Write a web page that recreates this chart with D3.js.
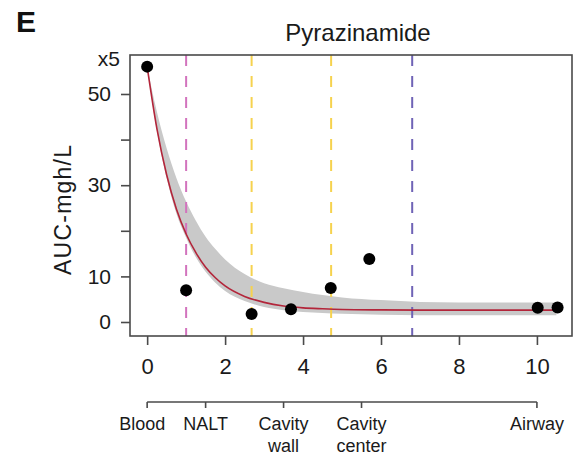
<!DOCTYPE html>
<html>
<head>
<meta charset="utf-8">
<script src="https://cdn.jsdelivr.net/npm/d3@7"></script>
<style>
  html, body { margin: 0; padding: 0; background: #fff; }
  svg { display: block; font-family: "Liberation Sans", Arial, Helvetica, sans-serif; }
</style>
</head>
<body>
<svg id="chart" width="573" height="459"></svg>
<script>
// Pyrazinamide exposure (AUC) by lesion compartment
const panelLabel = "E";
const chartTitle = "Pyrazinamide";
const yAxisTitle = "AUC-mgh/L";
const yScaleNote = "x5";

// Observed AUC per compartment position
const obsX = [0, 1.0, 2.68, 3.69, 4.71, 5.7, 10.02, 10.53];
const obsY = [56.0, 6.95, 1.75, 2.8, 7.45, 13.8, 3.1, 3.2];

// Fitted decay curve with its confidence band
const fitX  = [0, 0.25, 0.5, 0.75, 1, 1.25, 1.5, 1.75, 2, 2.5, 3, 3.5, 4, 4.5, 5, 6, 7, 8, 9, 10, 10.5];
const fitY  = [56.0, 42.4, 32.3, 24.8, 19.3, 15.2, 12.0, 9.7, 7.9, 5.6, 4.3, 3.5, 3.1, 2.9, 2.75, 2.65, 2.6, 2.6, 2.6, 2.6, 2.6];
const fitHi = [56.0, 46.1, 38.1, 31.6, 26.4, 22.2, 18.7, 16.0, 13.7, 10.5, 8.5, 7.4, 6.6, 5.9, 5.4, 4.8, 4.4, 4.3, 4.3, 4.3, 4.3];
const fitLo = [56.0, 42.0, 31.6, 23.8, 18.5, 14.2, 11.0, 8.6, 6.8, 4.6, 3.3, 2.6, 2.2, 2.0, 1.8, 1.6, 1.5, 1.5, 1.5, 1.5, 1.5];

// Compartment boundaries
const boundaryX = [1.0, 2.68, 4.72, 6.8];
const boundaryColors = ["#d273bd", "#f6d24e", "#f6d24e", "#6f63b6"];

// Axis ticks
const xTicks = [0, 2, 4, 6, 8, 10];
const yTicks = [0, 10, 20, 30, 40, 50];
const yTickLabels = ["0", "10", "", "30", "", "50"];

// Compartment key below the axis
const sitePos = [0, 1.5, 3.5, 5.5, 10];
const siteLabels = [["Blood"], ["NALT"], ["Cavity", "wall"], ["Cavity", "center"], ["Airway"]];

const svg = d3.select("#chart");
const plot = { left: 130, right: 572, top: 55, bottom: 336 };

const x = d3.scaleLinear().domain([-0.44, 10.9]).range([plot.left, plot.right]);
const y = d3.scaleLinear().domain([-3.07, 58.55]).range([plot.bottom, plot.top]);

const fit = fitX.map((v, i) => ({ x: v, y: fitY[i], lo: fitLo[i], hi: fitHi[i] }));

// Confidence band
svg.append("path")
  .datum(fit)
  .attr("fill", "#c9c9c9")
  .attr("d", d3.area().x(d => x(d.x)).y0(d => y(d.lo)).y1(d => y(d.hi)).curve(d3.curveMonotoneX));

// Boundary lines
svg.append("g").selectAll("line")
  .data(boundaryX)
  .join("line")
  .attr("x1", d => x(d)).attr("x2", d => x(d))
  .attr("y1", plot.top).attr("y2", plot.bottom)
  .attr("stroke", (d, i) => boundaryColors[i])
  .attr("stroke-width", 2)
  .attr("stroke-dasharray", "11,10");

// Fitted curve
svg.append("path")
  .datum(fit)
  .attr("fill", "none")
  .attr("stroke", "#b3253a")
  .attr("stroke-width", 1.6)
  .attr("d", d3.line().x(d => x(d.x)).y(d => y(d.y)).curve(d3.curveMonotoneX));

// Observations
svg.append("g").selectAll("circle")
  .data(obsX.map((v, i) => ({ x: v, y: obsY[i] })))
  .join("circle")
  .attr("cx", d => x(d.x)).attr("cy", d => y(d.y))
  .attr("r", 6).attr("fill", "#000");

// Frame
svg.append("rect")
  .attr("x", plot.left).attr("y", plot.top)
  .attr("width", plot.right - plot.left).attr("height", plot.bottom - plot.top)
  .attr("fill", "none").attr("stroke", "#4a4a4a").attr("stroke-width", 1.6);

// Y axis
const yAxis = svg.append("g")
  .attr("transform", `translate(${plot.left},0)`)
  .call(d3.axisLeft(y).tickValues(yTicks).tickSize(9).tickPadding(10)
    .tickFormat((d, i) => yTickLabels[i]));
yAxis.select(".domain").remove();
yAxis.selectAll(".tick line").attr("stroke", "#4a4a4a").attr("stroke-width", 1.6);
yAxis.selectAll(".tick text").attr("font-size", 21).attr("fill", "#1a1a1a");

// X axis
const xAxis = svg.append("g")
  .attr("transform", `translate(0,${plot.bottom})`)
  .call(d3.axisBottom(x).tickValues(xTicks).tickSize(9).tickPadding(13));
xAxis.select(".domain").remove();
xAxis.selectAll(".tick line").attr("stroke", "#4a4a4a").attr("stroke-width", 1.6);
xAxis.selectAll(".tick text").attr("font-size", 22).attr("fill", "#1a1a1a");

// Compartment key
const keyY = 402;
const key = svg.append("g");
key.append("line")
  .attr("x1", x(sitePos[0])).attr("x2", x(sitePos[sitePos.length - 1]))
  .attr("y1", keyY).attr("y2", keyY)
  .attr("stroke", "#4a4a4a").attr("stroke-width", 1.6);
key.selectAll("line.tick")
  .data(sitePos)
  .join("line")
  .attr("class", "tick")
  .attr("x1", d => x(d)).attr("x2", d => x(d))
  .attr("y1", keyY).attr("y2", keyY + 6)
  .attr("stroke", "#4a4a4a").attr("stroke-width", 1.6);
const keyText = key.selectAll("text")
  .data(sitePos.map((p, i) => ({ p, lines: siteLabels[i] })))
  .join("text")
  .attr("text-anchor", "middle")
  .attr("font-size", 18)
  .attr("fill", "#1a1a1a");
keyText.selectAll("tspan")
  .data(d => d.lines.map(t => ({ t, p: d.p })))
  .join("tspan")
  .attr("x", (d, i) => x(d.p) - (d.p === 0 ? 5 : 0))
  .attr("y", (d, i) => 430 + i * 22)
  .text(d => d.t);

// Titles
svg.append("text")
  .attr("x", 16).attr("y", 32)
  .attr("font-size", 30).attr("font-weight", "bold").attr("fill", "#111")
  .text(panelLabel);

svg.append("text")
  .attr("x", 358).attr("y", 41)
  .attr("text-anchor", "middle")
  .attr("font-size", 24).attr("fill", "#1a1a1a")
  .text(chartTitle);

svg.append("text")
  .attr("x", 120).attr("y", 66)
  .attr("text-anchor", "end")
  .attr("font-size", 21).attr("fill", "#1a1a1a")
  .text(yScaleNote);

svg.append("text")
  .attr("transform", "translate(71,210) rotate(-90)")
  .attr("text-anchor", "middle")
  .attr("font-size", 23)
  .attr("textLength", 130).attr("lengthAdjust", "spacing")
  .attr("fill", "#1a1a1a")
  .text(yAxisTitle);
</script>
</body>
</html>
